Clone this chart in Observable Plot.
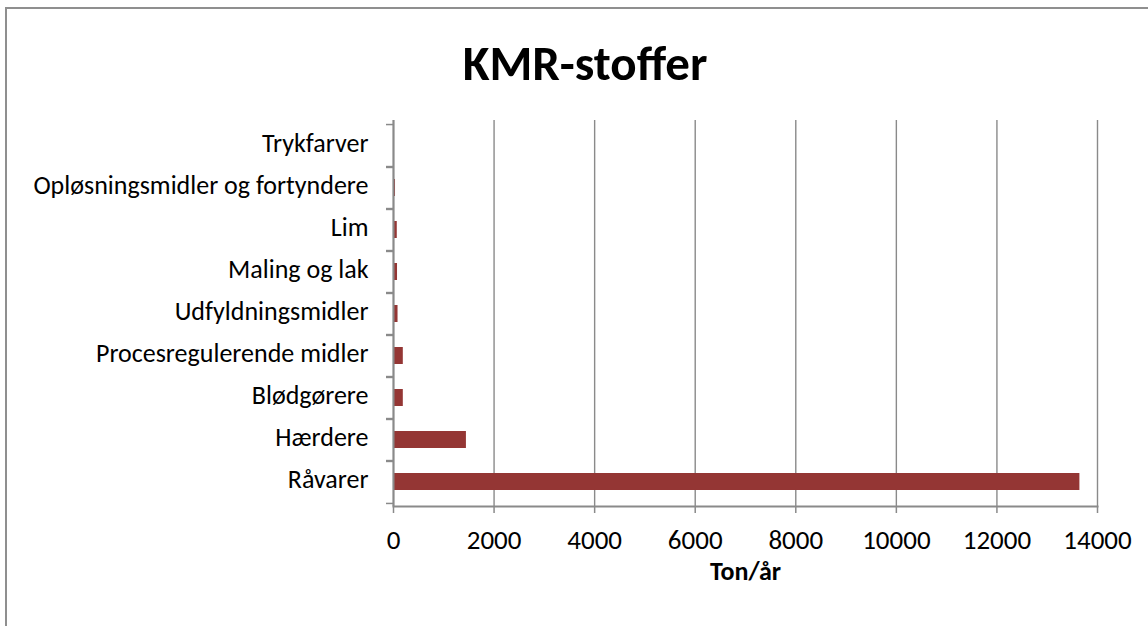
<!DOCTYPE html>
<html>
<head>
<meta charset="utf-8">
<script src="https://cdn.jsdelivr.net/npm/d3@7"></script>
<script src="https://cdn.jsdelivr.net/npm/@observablehq/plot@0.6"></script>
<style>
  html, body { margin: 0; padding: 0; background: #fff; }
  #wrap { position: relative; width: 1148px; height: 626px; overflow: hidden; font-family: Carlito, Lato, sans-serif; }
  #border { position: absolute; left: 5px; top: 7px; width: 1160px; height: 660px; border: 2px solid #8f8f8f; box-sizing: border-box; }
  #title { position: absolute; left: 0; width: 1170px; top: 39px; text-align: center; font-size: 49px; font-weight: bold; color: #000; line-height: 1; }
  #chart { position: absolute; left: 0; top: 0; }
</style>
</head>
<body>
<div id="wrap">
  <div id="border"></div>
  <div id="title">KMR-stoffer</div>
  <div id="chart"></div>
</div>
<script>
const categories = ["Trykfarver", "Opløsningsmidler og fortyndere", "Lim", "Maling og lak", "Udfyldningsmidler", "Procesregulerende midler", "Blødgørere", "Hærdere", "Råvarer"];
const values = [5, 40, 75, 80, 90, 195, 195, 1450, 13650];
const xTicks = [0, 2000, 4000, 6000, 8000, 10000, 12000, 14000];
const xLabel = "Ton/år";

const data = categories.map((c, i) => ({category: c, value: values[i]}));

const W = 1148, H = 626, mT = 120, mB = 120, mL = 393, mR = 51;
const step = (H - mT - mB) / categories.length;
const grid = "#8a8a8a";

const chart = Plot.plot({
  width: W, height: H,
  marginTop: mT, marginBottom: mB, marginLeft: mL, marginRight: mR,
  style: {fontFamily: "Carlito, Lato, sans-serif", fontSize: "26px", color: "#000", background: "transparent"},
  x: {domain: [0, 14000], ticks: xTicks},
  y: {domain: categories, paddingInner: 0.6, paddingOuter: 0.3},
  marks: [
    Plot.gridX(xTicks, {stroke: grid, strokeOpacity: 1, strokeWidth: 1.4}),
    Plot.barX(data, {y: "category", x: "value", fill: "#943634"}),
    Plot.ruleX([0], {stroke: grid, strokeWidth: 2}),
    Plot.frame({anchor: "bottom", stroke: grid, strokeWidth: 2}),
    Plot.axisX(xTicks, {tickSize: 7, tickPadding: 16, stroke: grid, strokeWidth: 1.5, tickFormat: d => String(d), label: null, fontSize: 27}),
    Plot.axisY({tickSize: 0, tickPadding: 25, dy: -2, label: null, fontSize: 26}),
    Plot.axisY({text: null, tickSize: 7, dy: -step / 2, stroke: grid, strokeWidth: 1.5, label: null}),
    Plot.axisY({text: null, tickSize: 7, dy: step / 2, stroke: grid, strokeWidth: 1.5, label: null}),
    Plot.text([xLabel], {frameAnchor: "bottom", dy: 73, fontWeight: "bold", fontSize: 26, fill: "#000"})
  ]
});
document.getElementById("chart").appendChild(chart);
</script>
</body>
</html>
